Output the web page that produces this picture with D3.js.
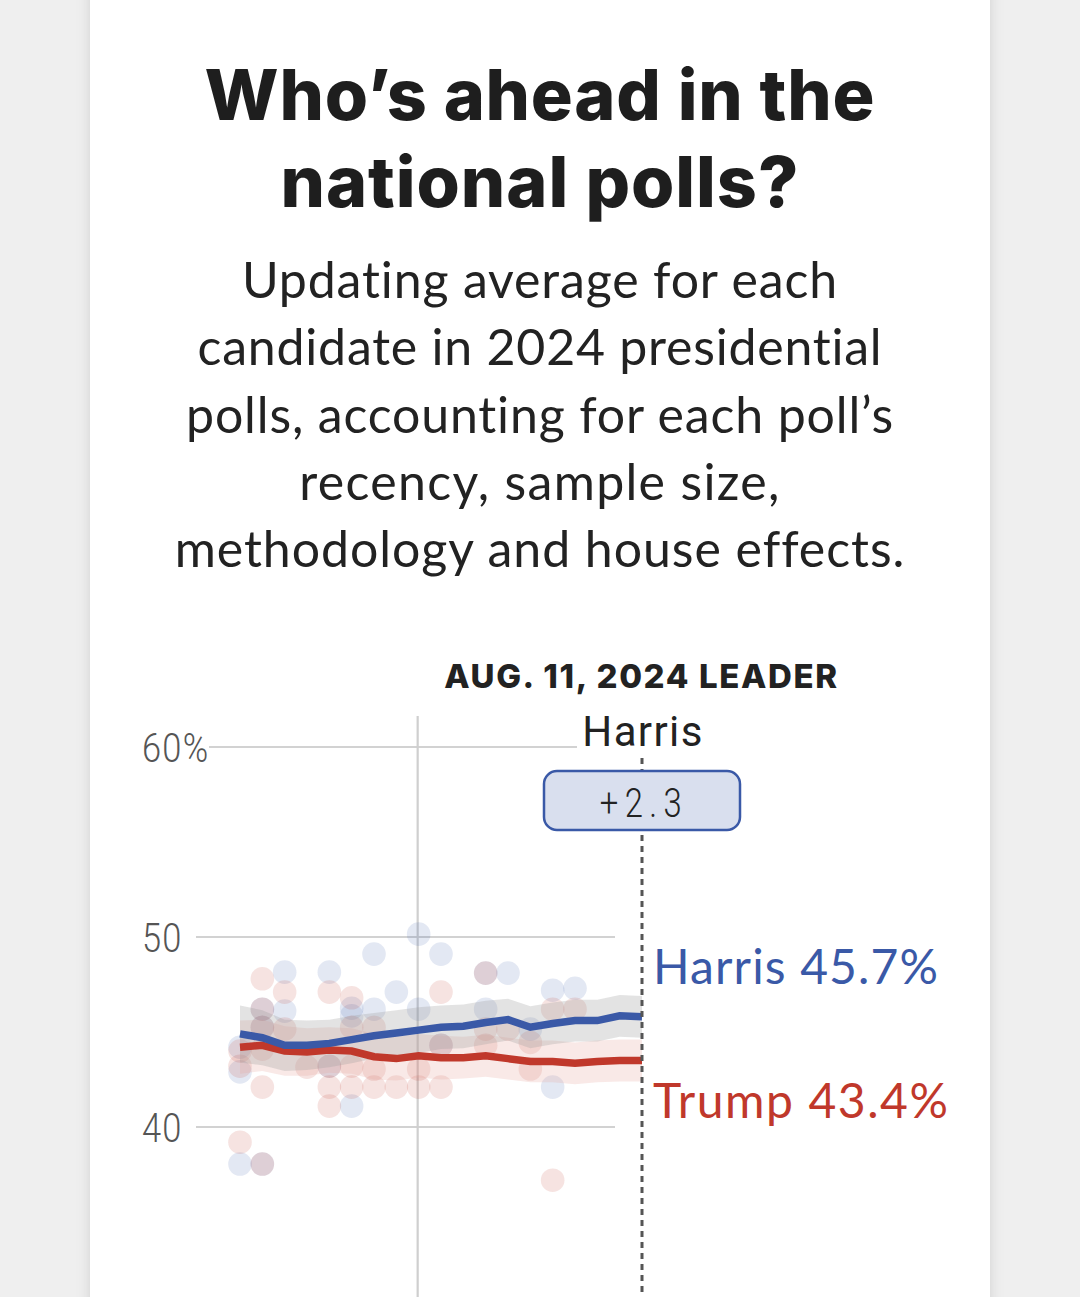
<!DOCTYPE html>
<html>
<head>
<meta charset="utf-8">
<script src="https://cdn.jsdelivr.net/npm/d3@7"></script>
<style>
  html, body { margin: 0; padding: 0; background: #efefef; }
  svg { display: block; }
</style>
</head>
<body>
<svg id="chart" width="1080" height="1297"></svg>
<script>
// ---------- DATA ----------
const titleLines = ["Who\u2019s ahead in the", "national polls?"];
const subtitleLines = [
  "Updating average for each",
  "candidate in 2024 presidential",
  "polls, accounting for each poll\u2019s",
  "recency, sample size,",
  "methodology and house effects."
];
const leaderHeading = "AUG. 11, 2024 LEADER";
const leaderName = "Harris";
const leaderMargin = "+2.3";

const dates = ["2024-07-24","2024-07-25","2024-07-26","2024-07-27","2024-07-28","2024-07-29",
  "2024-07-30","2024-07-31","2024-08-01","2024-08-02","2024-08-03","2024-08-04","2024-08-05",
  "2024-08-06","2024-08-07","2024-08-08","2024-08-09","2024-08-10","2024-08-11"];
const harrisAvg = [44.9,44.7,44.3,44.3,44.4,44.6,44.8,44.95,45.1,45.25,45.3,45.5,45.65,45.25,45.45,45.6,45.6,45.85,45.8];
const trumpAvg  = [44.2,44.3,44.0,43.95,44.05,44.0,43.7,43.6,43.75,43.65,43.65,43.75,43.6,43.45,43.45,43.35,43.45,43.5,43.5];
const harrisBand = [1.5,1.45,1.35,1.3,1.25,1.25,1.2,1.2,1.2,1.15,1.15,1.15,1.1,1.1,1.1,1.1,1.1,1.1,1.1];
const trumpBand  = [1.4,1.35,1.3,1.25,1.2,1.2,1.2,1.15,1.15,1.15,1.1,1.1,1.1,1.1,1.1,1.1,1.1,1.1,1.1];

// individual polls: [date index, value]
const harrisPolls = [
  [0,44.2],[0,42.9],[0,38.05],
  [1,46.2],[1,45.25],[1,38.05],
  [2,48.15],[2,46.1],
  [4,48.15],[4,43.2],
  [5,46.25],[5,45.85],[5,41.1],
  [6,49.1],[6,46.2],
  [7,47.1],
  [8,50.15],[8,46.2],
  [9,49.1],[9,44.3],
  [11,48.1],[11,46.2],
  [12,48.1],
  [13,45.15],
  [14,47.2],[14,42.1],
  [15,47.3]
];
const trumpPolls = [
  [0,43.2],[0,39.2],[0,44.0],
  [1,47.8],[1,46.2],[1,45.25],[1,44.1],[1,42.1],[1,38.05],
  [2,47.1],[2,45.15],
  [3,43.15],
  [4,47.1],[4,43.2],[4,42.1],[4,41.1],
  [5,46.8],[5,45.25],[5,43.2],[5,42.1],
  [6,45.25],[6,43.05],[6,42.1],
  [7,42.1],
  [8,43.05],[8,42.1],
  [9,47.1],[9,44.3],[9,42.1],
  [11,48.1],[11,45.15],[11,44.3],
  [12,45.15],
  [13,44.45],[13,43.05],
  [14,46.2],[14,37.2],
  [15,46.2]
];
const yTicks = [40, 50, 60];
const yTickLabels = ["40", "50", "60%"];
const markerDate = "2024-08-01";
const candidates = ["Harris", "Trump"];
const finalValues = [45.7, 43.4];

// ---------- DRAW ----------
const parse = d3.utcParse("%Y-%m-%d");
const dts = dates.map(parse);
const svg = d3.select("#chart");

const BLUE = "#3a59a7", RED = "#c0382b";

// fit a text element to a target width by adjusting letter spacing only
function fitWidth(sel, target) {
  sel.each(function() {
    const w = this.getComputedTextLength();
    const n = this.textContent.length;
    if (n > 1) d3.select(this).attr("letter-spacing", ((target - w) / (n - 1)).toFixed(2));
  });
}

const defs = svg.append("defs");
const f = defs.append("filter").attr("id","sh").attr("x","-10%").attr("y","-10%").attr("width","120%").attr("height","120%");
f.append("feDropShadow").attr("dx",0).attr("dy",0).attr("stdDeviation",7).attr("flood-color","#000").attr("flood-opacity",0.13);

svg.append("rect").attr("width",1080).attr("height",1297).attr("fill","#efefef");
svg.append("rect").attr("x",90).attr("y",-20).attr("width",900).attr("height",1340)
  .attr("fill","#fff").attr("filter","url(#sh)");

// Title
const titleWidths = [670, 518];
svg.append("g").selectAll("text").data(titleLines).join("text")
  .attr("x",540).attr("y",(d,i)=>120 + i*87)
  .attr("text-anchor","middle")
  .attr("font-family","Inter, Roboto, sans-serif")
  .attr("font-weight",800).attr("font-size",70).attr("fill","#1e1e1e")
  .text(d=>d)
  .each(function(d,i){ fitWidth(d3.select(this), titleWidths[i]); });

// Subtitle
const subWidths = [596, 685, 708, 480, 728];
svg.append("g").selectAll("text").data(subtitleLines).join("text")
  .attr("x",540).attr("y",(d,i)=>298 + i*67.3)
  .attr("text-anchor","middle")
  .attr("font-family","Lato, 'Open Sans', sans-serif")
  .attr("font-size",50).attr("fill","#222")
  .text(d=>d)
  .each(function(d,i){ fitWidth(d3.select(this), subWidths[i]); });

// Scales
const x = d3.scaleUtc().domain([dts[0], dts[dts.length-1]]).range([240, 642]);
const y = d3.scaleLinear().domain([40, 60]).range([1127, 747]);

// Gridlines
const grid = svg.append("g");
grid.selectAll("line").data(yTicks).join("line")
  .attr("x1", d => d === 60 ? 209 : 196)
  .attr("x2", d => d === 60 ? 577 : 615)
  .attr("y1", d => y(d)).attr("y2", d => y(d))
  .attr("stroke","#d2d2d2").attr("stroke-width",2);
grid.append("line")
  .attr("x1", x(parse(markerDate))-1).attr("x2", x(parse(markerDate))-1)
  .attr("y1",716).attr("y2",1297)
  .attr("stroke","#cfcfcf").attr("stroke-width",2.2);

// Tick labels
svg.append("g").selectAll("text").data(yTicks).join("text")
  .attr("transform", d => `translate(142,${y(d)+15}) scale(0.84,1)`)
  .attr("font-family","Roboto, 'DejaVu Sans', sans-serif")
  .attr("font-weight",300)
  .attr("font-size",41).attr("fill","#555")
  .attr("letter-spacing",1.5)
  .text((d,i)=>yTickLabels[i]);

// Dots
const dotG = svg.append("g");
dotG.selectAll("circle.h").data(harrisPolls).join("circle").attr("class","h")
  .attr("cx", d => x(dts[d[0]])).attr("cy", d => y(d[1])).attr("r",11.8)
  .attr("fill",BLUE).attr("fill-opacity",0.14);
dotG.selectAll("circle.t").data(trumpPolls).join("circle").attr("class","t")
  .attr("cx", d => x(dts[d[0]])).attr("cy", d => y(d[1])).attr("r",11.8)
  .attr("fill",RED).attr("fill-opacity",0.14);

// Bands
const area = (vals, band) => d3.area()
  .x((d,i)=>x(dts[i])).y0((d,i)=>y(vals[i]-band[i])).y1((d,i)=>y(vals[i]+band[i]))(vals);
svg.append("path").attr("d", area(trumpAvg, trumpBand)).attr("fill","#e8a8a0").attr("fill-opacity",0.25);
svg.append("path").attr("d", area(harrisAvg, harrisBand)).attr("fill","#999").attr("fill-opacity",0.28);

// Lines
const line = vals => d3.line().x((d,i)=>x(dts[i])).y(d=>y(d))(vals);
svg.append("path").attr("d", line(trumpAvg)).attr("fill","none").attr("stroke",RED).attr("stroke-width",7.5);
svg.append("path").attr("d", line(harrisAvg)).attr("fill","none").attr("stroke",BLUE).attr("stroke-width",7.5);

// Current-date dashed line
const xEnd = x(dts[dts.length-1]);
svg.append("line").attr("x1",xEnd).attr("x2",xEnd).attr("y1",758).attr("y2",1297)
  .attr("stroke","#555").attr("stroke-width",3).attr("stroke-dasharray","6,5");

// Leader heading
svg.append("text").attr("x",xEnd-0.5).attr("y",688).attr("text-anchor","middle")
  .attr("font-family","Inter, Roboto, sans-serif").attr("font-weight",800)
  .attr("font-size",33).attr("fill","#222").text(leaderHeading)
  .call(s => fitWidth(s, 393));
svg.append("text").attr("x",xEnd+1).attr("y",746).attr("text-anchor","middle")
  .attr("font-family","Roboto, sans-serif").attr("font-weight",400)
  .attr("font-size",42).attr("fill","#222").text(leaderName)
  .call(s => fitWidth(s, 120));

// Margin box
svg.append("rect").attr("x",544).attr("y",771).attr("width",196).attr("height",59)
  .attr("rx",13).attr("fill","#d9dfee").attr("stroke",BLUE).attr("stroke-width",2.5);
svg.append("text").attr("transform",`translate(${xEnd+2},817) scale(0.8,1)`).attr("text-anchor","middle")
  .attr("font-family","Roboto, sans-serif").attr("font-weight",300)
  .attr("font-size",41).attr("fill","#222").attr("letter-spacing",8)
  .text(leaderMargin);

// End labels
const endWidths = [285, 295];
svg.append("g").selectAll("text").data(candidates).join("text")
  .attr("x",653).attr("y",(d,i)=> i===0 ? 984 : 1118)
  .attr("font-family","Lato, 'Open Sans', sans-serif")
  .attr("font-size",48)
  .attr("fill",(d,i)=> i===0 ? BLUE : RED)
  .text((d,i)=> `${d} ${finalValues[i]}%`)
  .each(function(d,i){ fitWidth(d3.select(this), endWidths[i]); });
</script>
</body>
</html>
